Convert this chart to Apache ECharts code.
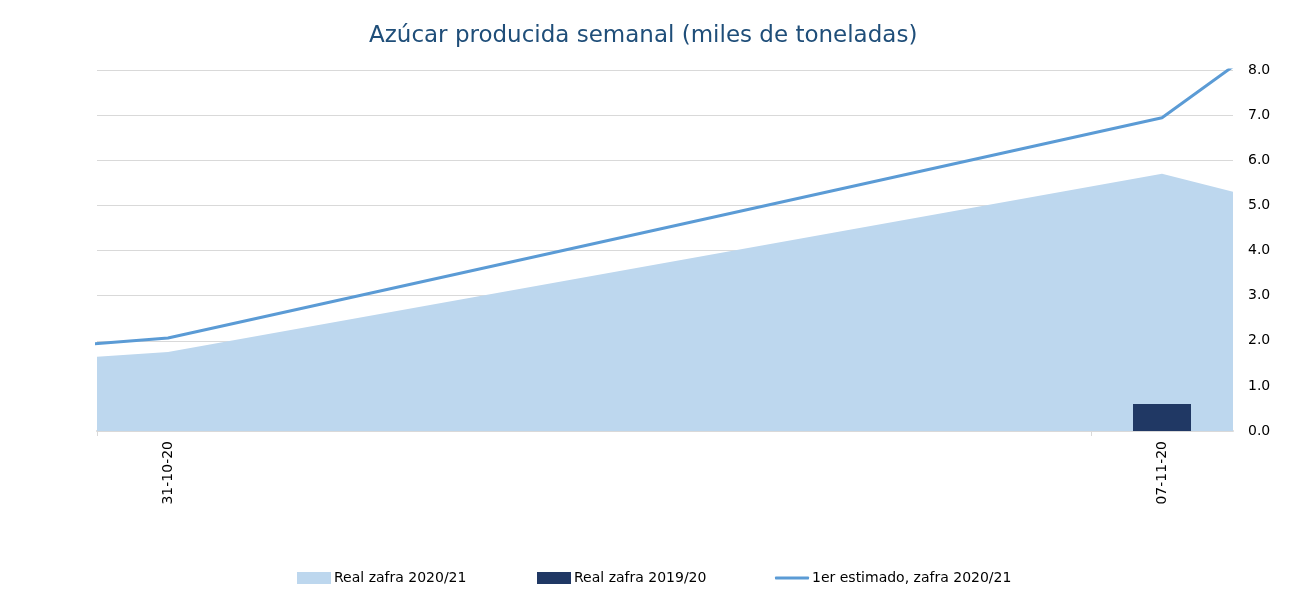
<!DOCTYPE html>
<html>
<head>
<meta charset="utf-8">
<script src="https://cdn.jsdelivr.net/npm/echarts@6/dist/echarts.min.js"></script>
<style>
    html, body { margin: 0; padding: 0; background: #fff; }
    #main { width: 1303px; height: 609px; }
</style>
</head>
<body>
<div id="main"></div>
<script>
    // dias relativos al 31-10-20
    var dias = [-1, 0, 7, 8];
    var etiquetas = {0: '31-10-20', 7: '07-11-20'};
    var real2021 = [1.54, 1.75, 5.70, 4.90];
    var estimado2021 = [1.81, 2.06, 6.94, 9.22];
    var diaBarra = [7];
    var real1920 = [0.60];

    function pares(xs, ys) {
        return xs.map(function (x, i) { return [x, ys[i]]; });
    }

    var font = 'DejaVu Sans';
    var chart = echarts.init(document.getElementById('main'));
    var option = {
        backgroundColor: '#fff',
        animation: false,
        textStyle: {fontFamily: font},
        title: {
            text: 'Azúcar producida semanal (miles de toneladas)',
            left: 364,
            top: 20,
            textStyle: {fontFamily: font, fontSize: 23, fontWeight: 'normal', color: '#1f4e79'}
        },
        legend: [
            {
                left: 292, top: 566, itemWidth: 34, itemHeight: 12,
                textStyle: {fontSize: 14, color: '#000', padding: [0, 0, 0, -2]},
                data: [{name: 'Real zafra 2020/21', icon: 'rect'}]
            },
            {
                left: 532, top: 566, itemWidth: 34, itemHeight: 12,
                textStyle: {fontSize: 14, color: '#000', padding: [0, 0, 0, -2]},
                data: [{name: 'Real zafra 2019/20', icon: 'rect'}]
            },
            {
                left: 770, top: 566, itemWidth: 34, itemHeight: 3,
                textStyle: {fontSize: 14, color: '#000', padding: [0, 0, 0, -2]},
                data: [{name: '1er estimado, zafra 2020/21', icon: 'roundRect'}]
            }
        ],
        grid: {left: 97, right: 70, top: 70, bottom: 178},
        xAxis: {
            type: 'value',
            min: -0.5,
            max: 7.5,
            splitLine: {show: false},
            axisLine: {lineStyle: {color: '#d9d9d9', width: 2}},
            axisTick: {show: true, length: 5, customValues: [-0.5, 6.5], lineStyle: {color: '#d9d9d9'}},
            axisLabel: {
                rotate: 90,
                margin: 10,
                fontSize: 14,
                color: '#000',
                customValues: [0, 7],
                formatter: function (v) { return etiquetas[v] || ''; }
            }
        },
        yAxis: {
            type: 'value',
            position: 'right',
            min: 0,
            max: 8,
            interval: 1,
            axisLine: {show: false},
            axisTick: {show: false},
            axisLabel: {
                margin: 15,
                fontSize: 14,
                color: '#000',
                formatter: function (v) { return v.toFixed(1); }
            },
            splitLine: {lineStyle: {color: '#d9d9d9'}}
        },
        series: [
            {
                name: 'Real zafra 2020/21',
                type: 'line',
                data: pares(dias, real2021),
                symbol: 'none',
                color: '#bdd7ee',
                lineStyle: {width: 0},
                areaStyle: {color: '#bdd7ee', opacity: 1},
                z: 1
            },
            {
                name: 'Real zafra 2019/20',
                type: 'bar',
                data: pares(diaBarra, real1920),
                barWidth: 58,
                color: '#203864',
                z: 2
            },
            {
                name: '1er estimado, zafra 2020/21',
                type: 'line',
                data: pares(dias, estimado2021),
                symbol: 'none',
                color: '#5b9bd5',
                lineStyle: {width: 3, color: '#5b9bd5'},
                z: 3
            }
        ]
    };
    chart.setOption(option);
</script>
</body>
</html>
